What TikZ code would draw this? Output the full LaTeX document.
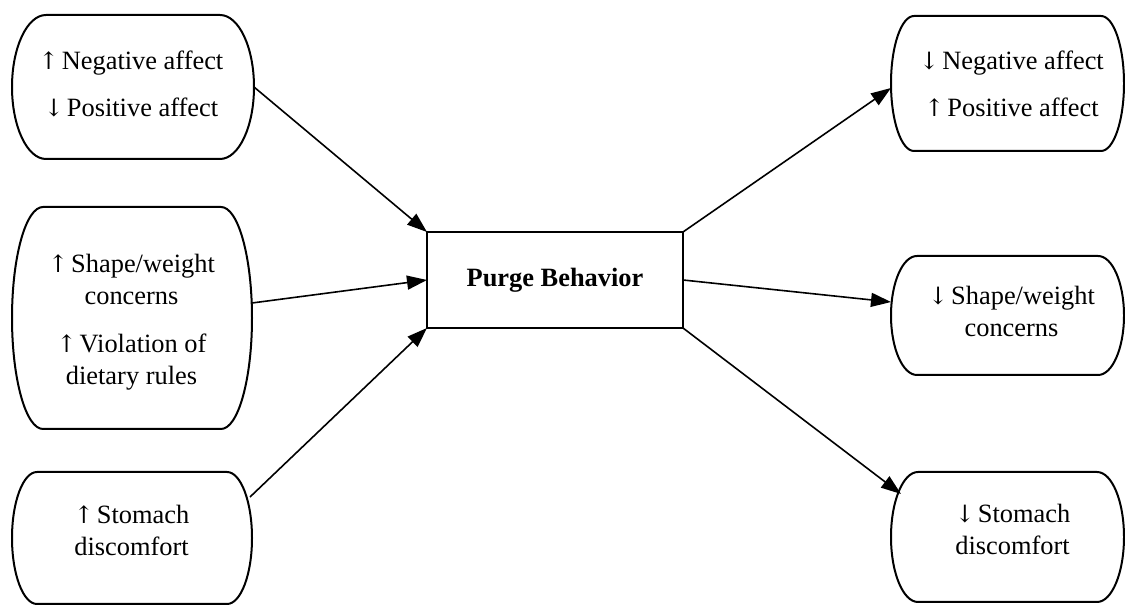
\documentclass[tikz,border=0pt]{standalone}
\usepackage{fontspec}
\setmainfont{Liberation Serif}
\newfontfamily\arrfont{DejaVu Serif}
\newcommand\up{{\arrfont\fontsize{24}{32}\selectfont ↑}\hspace{3pt}}
\newcommand\dn{{\arrfont\fontsize{24}{32}\selectfont ↓}\hspace{3pt}}
\usetikzlibrary{arrows.meta,calc}
\tikzset{
  frame/.style={draw=black, line width=2pt},
  boxn/.style={draw=none, inner sep=0pt, outer sep=0pt},
  txt/.style={align=center, font=\fontsize{26.4}{32}\selectfont, inner sep=0pt},
  center box/.style={draw=black, line width=2pt, inner sep=0pt, outer sep=0pt,
    minimum width=256, minimum height=96, font=\fontsize{26.4}{32}\selectfont\bfseries},
  conn/.style={line width=1.6pt, -{Triangle[length=20pt,width=14pt]}},
}
% x1, y-bottom, x2, y-top, rx
\newcommand\tframe[5]{%
  \draw[frame] (#1+#5,#4) -- (#3-#5,#4)
    arc[start angle=90,end angle=-90,x radius=#5,y radius={(#4-#2)/2}]
    -- (#1+#5,#2)
    arc[start angle=270,end angle=90,x radius=#5,y radius={(#4-#2)/2}]
    -- cycle;}
\begin{document}
\begin{tikzpicture}[x=1pt,y=1pt]
\useasboundingbox (0,0) rectangle (1125,605);

% left boxes
\node[boxn, minimum width=242, minimum height=144] (b1) at (133,518) {};
\tframe{12}{446}{254}{590}{34}
\node[txt] (t1) at (131,521) {\up Negative affect\\[15pt]\dn Positive affect};

\node[boxn, minimum width=240, minimum height=222] (b2) at (132,287) {};
\tframe{12}{176}{252}{398}{31}
\node[txt] (t2) at (131.5,282.5) {\up Shape/weight\\concerns\\[16pt]\up Violation of\\dietary rules};

\node[boxn, minimum width=240, minimum height=132] (b3) at (132,67) {};
\tframe{12}{1}{252}{133}{25}
\node[txt] (t3) at (131.5,74.5) {\up Stomach\\discomfort};

% right boxes
\node[boxn, minimum width=233, minimum height=135] (b4) at (1007.5,521.5) {};
\tframe{891}{454}{1124}{589}{23}
\node[txt] (t4) at (1011.5,521) {\dn Negative affect\\[15pt]\up Positive affect};

\node[boxn, minimum width=233, minimum height=119] (b5) at (1007.5,289.5) {};
\tframe{891}{230}{1124}{349}{26}
\node[txt] (t5) at (1011.5,293.5) {\dn Shape/weight\\concerns};

\node[boxn, minimum width=233, minimum height=130] (b6) at (1007.5,68) {};
\tframe{891}{3}{1124}{133}{27}
\node[txt] (t6) at (1012.5,76) {\dn Stomach\\discomfort};

% center
\node[center box] (c) at (555,325) {Purge Behavior};

% connector ends on the curved sides
\coordinate (s2) at (252,302);
\coordinate (s3) at (250,108);
\coordinate (e4) at (891,517);
\coordinate (e5) at (891,303);
\coordinate (e6) at (901,111);

\draw[conn] (b1.east) -- (c.north west);
\draw[conn] (s2) -- (c.west);
\draw[conn] (s3) -- (c.south west);
\draw[conn] (c.north east) -- (e4);
\draw[conn] (c.east) -- (e5);
\draw[conn] (c.south east) -- (e6);
\end{tikzpicture}
\end{document}
